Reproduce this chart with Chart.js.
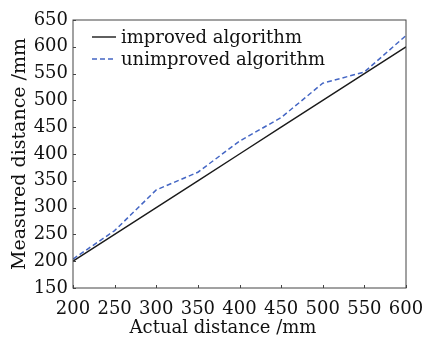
<!DOCTYPE html>
<html>
<head>
<meta charset="utf-8">
<script src="https://cdn.jsdelivr.net/npm/chart.js@4/dist/chart.umd.min.js"></script>
<style>
  html, body { margin: 0; padding: 0; background: #fff; }
  #wrap { width: 425px; height: 337px; }
</style>
</head>
<body>
<div id="wrap"><canvas id="chartCanvas"></canvas></div>
<script>
// data
const actual = [200, 250, 300, 350, 400, 450, 500, 550, 600];
const improved = [200, 250, 300, 350, 400, 450, 500, 550, 600];
const unimproved = [204, 257, 333, 366, 424, 468, 532, 553, 621];
const xTicks = [200, 250, 300, 350, 400, 450, 500, 550, 600];
const yTicks = [150, 200, 250, 300, 350, 400, 450, 500, 550, 600, 650];
const xTitle = 'Actual distance /mm';

const FONT = 'DejaVu Serif';

// frame, inward ticks, x title and legend inside the plot
const framePlugin = {
    id: 'frame',
    afterDraw(chart) {
        const ctx = chart.ctx;
        const a = chart.chartArea;
        const xs = chart.scales.x, ys = chart.scales.y;
        ctx.save();
        ctx.strokeStyle = '#444';
        ctx.lineWidth = 1;
        ctx.strokeRect(a.left, a.top, a.right - a.left, a.bottom - a.top);
        ctx.beginPath();
        xTicks.forEach(v => {
            const px = Math.round(xs.getPixelForValue(v)) + 0.5;
            ctx.moveTo(px, a.bottom);
            ctx.lineTo(px, a.bottom - 3);
        });
        yTicks.forEach(v => {
            const py = Math.round(ys.getPixelForValue(v)) + 0.5;
            ctx.moveTo(a.left, py);
            ctx.lineTo(a.left + 3, py);
        });
        ctx.stroke();

        ctx.font = '18px "' + FONT + '"';
        ctx.fillStyle = '#111';

        // x axis title, sits a bit left of centre in the original
        ctx.textAlign = 'center';
        ctx.textBaseline = 'alphabetic';
        ctx.fillText(xTitle, 223, 333);

        // legend
        ctx.textAlign = 'left';
        ctx.textBaseline = 'middle';
        chart.data.datasets.forEach((ds, i) => {
            const y = 37 + i * 22;
            ctx.beginPath();
            ctx.strokeStyle = ds.borderColor;
            ctx.lineWidth = ds.borderWidth;
            ctx.setLineDash(ds.borderDash || []);
            ctx.moveTo(a.left + 19, y);
            ctx.lineTo(a.left + 43, y);
            ctx.stroke();
            ctx.setLineDash([]);
            ctx.fillText(ds.label, a.left + 48, y + 1);
        });
        ctx.restore();
    }
};

const ctx = document.getElementById('chartCanvas').getContext('2d');
const chart = new Chart(ctx, {
    type: 'line',
    data: {
        datasets: [{
            label: 'improved algorithm',
            data: actual.map((x, i) => ({ x: x, y: improved[i] })),
            borderColor: '#1a1a1a',
            borderWidth: 1.4,
            pointRadius: 0,
            fill: false,
            tension: 0
        }, {
            label: 'unimproved algorithm',
            data: actual.map((x, i) => ({ x: x, y: unimproved[i] })),
            borderColor: '#4466c4',
            borderWidth: 1.5,
            borderDash: [5, 3],
            pointRadius: 0,
            fill: false,
            tension: 0
        }]
    },
    options: {
        responsive: true,
        maintainAspectRatio: false,
        animation: false,
        layout: { padding: { left: 0, top: 20, right: 19, bottom: 0 } },
        plugins: {
            legend: { display: false },
            tooltip: { enabled: false }
        },
        scales: {
            x: {
                type: 'linear',
                min: 200,
                max: 600,
                afterBuildTicks(scale) { scale.ticks = xTicks.map(v => ({ value: v })); },
                afterFit(scale) {
                    scale.height = 49;
                    scale.paddingLeft = 0;
                    scale.paddingRight = 0;
                },
                grid: { drawOnChartArea: false, drawTicks: false },
                border: { display: false },
                ticks: {
                    padding: 11,
                    color: '#111',
                    maxRotation: 0,
                    font: { family: FONT, size: 18 }
                },
                title: { display: false }
            },
            y: {
                type: 'linear',
                min: 150,
                max: 650,
                afterBuildTicks(scale) { scale.ticks = yTicks.map(v => ({ value: v })); },
                afterFit(scale) {
                    scale.width = 73;
                    scale.paddingTop = 0;
                    scale.paddingBottom = 0;
                },
                grid: { drawOnChartArea: false, drawTicks: false },
                border: { display: false },
                ticks: {
                    padding: 5,
                    color: '#111',
                    font: { family: FONT, size: 18 }
                },
                title: {
                    display: true,
                    text: 'Measured distance /mm',
                    color: '#111',
                    padding: { top: 9, bottom: 0 },
                    font: { family: FONT, size: 19 }
                }
            }
        }
    },
    plugins: [framePlugin]
});
</script>
</body>
</html>
